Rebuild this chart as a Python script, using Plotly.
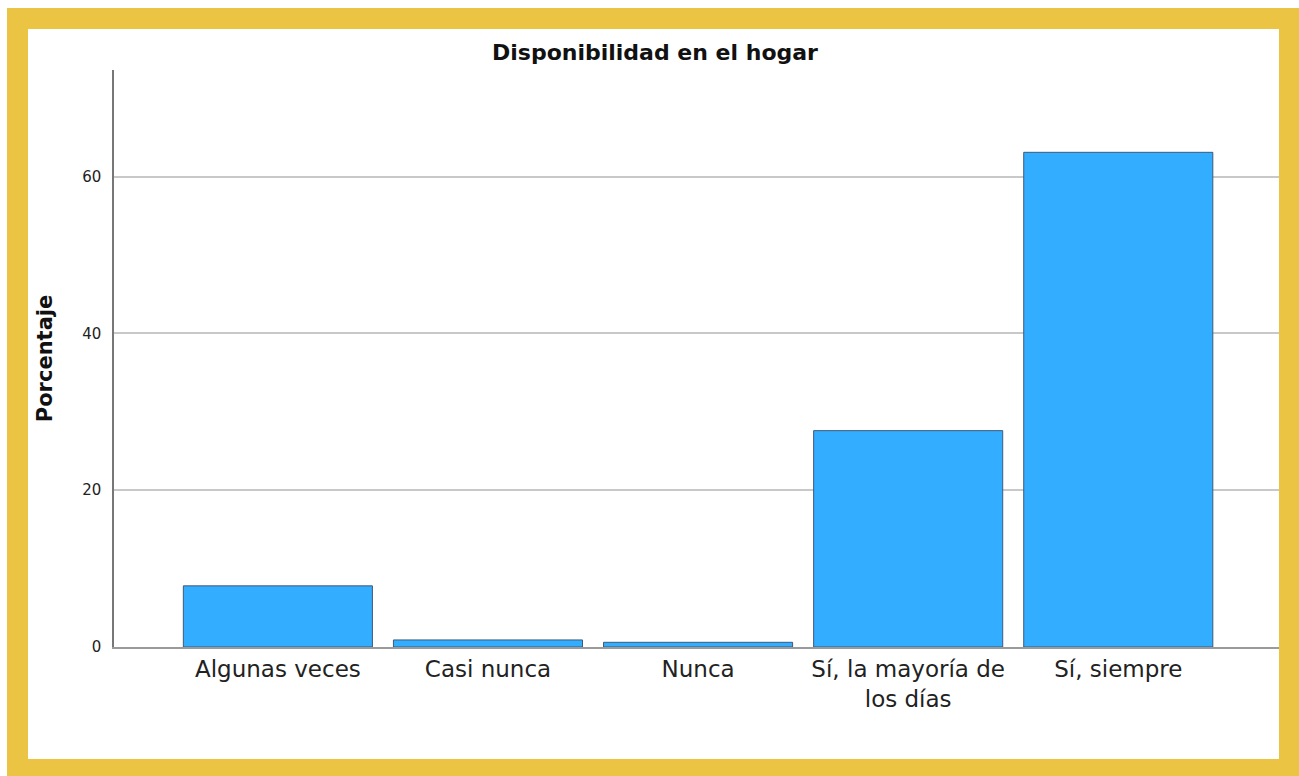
import plotly.graph_objects as go

categories = ["Algunas veces", "Casi nunca", "Nunca", "Sí, la mayoría de<br>los días", "Sí, siempre"]
percentages = [7.8, 0.9, 0.6, 27.6, 63.1]
y_ticks = [0, 20, 40, 60]

W, H = 1299, 776
ml, mr, mt, mb = 114, 1299 - 1279, 70, 776 - 647
pw, ph = W - ml - mr, H - mt - mb

def px_x(x):
    return (x - ml) / pw

def px_y(y):
    return (H - mb - y) / ph

fig = go.Figure(go.Bar(
    x=list(range(len(categories))),
    y=percentages,
    marker=dict(color="#33ADFF", line=dict(color="#3d5a78", width=1)),
    width=0.9,
    hoverinfo="skip",
))

fig.update_layout(
    width=W, height=H,
    margin=dict(l=ml, r=mr, t=mt, b=mb),
    paper_bgcolor="white",
    plot_bgcolor="rgba(0,0,0,0)",
    showlegend=False,
    font=dict(family="DejaVu Sans", color="#222222"),
    title=dict(text="<b>Disponibilidad en el hogar</b>", x=655 / W, xanchor="center",
               y=1 - 52 / H, yanchor="middle", font=dict(size=22, color="#111111")),
    shapes=[
        dict(type="rect", xref="paper", yref="paper", layer="below",
             x0=px_x(7), x1=px_x(1320), y0=px_y(800), y1=px_y(8),
             fillcolor="#ECC443", line=dict(width=0)),
        dict(type="rect", xref="paper", yref="paper", layer="below",
             x0=px_x(28), x1=px_x(1279), y0=px_y(759), y1=px_y(29),
             fillcolor="white", line=dict(width=0)),
    ],
)

fig.update_xaxes(
    range=[-0.78, 4.765],
    tickmode="array", tickvals=list(range(len(categories))), ticktext=categories,
    tickfont=dict(size=23, color="#222222"),
    showgrid=False, zeroline=False,
    showline=True, linecolor="#9a9a9a", linewidth=2,
    ticks="", ticklen=0,
)
fig.update_yaxes(
    range=[0, 73.6],
    tickmode="array", tickvals=y_ticks, ticktext=[str(v) for v in y_ticks],
    tickfont=dict(size=15, color="#222222"),
    showgrid=True, gridcolor="#c8c8c8", gridwidth=1.5,
    zeroline=False,
    showline=True, linecolor="#777777", linewidth=1.5,
    ticks="", ticklabelstandoff=8,
    title=dict(text="<b>Porcentaje</b>", font=dict(size=21, color="#111111"), standoff=24),
)

fig.write_html("out.html",
               config={"displayModeBar": False},
               post_script="document.body.style.margin='0';document.body.style.overflow='hidden';")
